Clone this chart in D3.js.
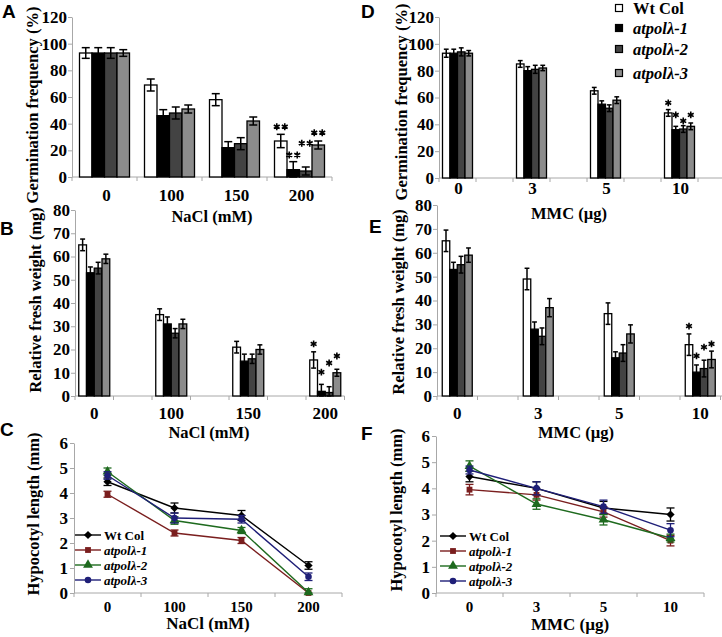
<!DOCTYPE html>
<html>
<head>
<meta charset="utf-8">
<script src="https://cdn.jsdelivr.net/npm/d3@7"></script>
<style>
body{margin:0;background:#fff}
text{font-family:"Liberation Serif","Times New Roman",serif;font-weight:bold;fill:#000}
</style>
</head>
<body>
<script>
// genotypes and doses
var seriesNames = ["Wt Col","atpolλ-1","atpolλ-2","atpolλ-3"];
var saltDoses = ["0","100","150","200"];
var mmcDoses = ["0","3","5","10"];

// germination frequency (%), one row per dose, one value per genotype
var germSalt = [[93,93,93,93],[69,46,48,51],[58,22,25,42],[27,5.5,4.5,24]];
var germSaltErr = [[4,4,4,2.5],[4.5,4.5,4.5,3],[4.5,4.5,4.5,3],[5,6,3,3]];
var germSaltStars = [37.7,16.5,25.3,33.2];
var germMmc = [[93,93,94,93],[85,80,81,82],[65,55,52,58],[48.5,36,36.5,38.5]];
var germMmcErr = [[3,3,3,2],[2.5,3,3,2],[2.5,2.5,2.5,2.5],[2.5,2.5,2.5,2.5]];
var germMmcStars = [56,47,42.5,47];

// relative fresh weight (mg)
var weightSalt = [[65,53,55,59],[35,31,27,31],[21,15,16,20],[15.5,2,1.5,10]];
var weightSaltErr = [[2.5,2.5,2.5,2],[2.5,3,2,2],[2.5,3,2,2],[3.5,3,2.5,1.5]];
var weightSaltStars = [22.4,10.3,14.2,17.2];
var weightMmc = [[65,53,55,59],[49,28,25,37],[34.5,16,18,26],[21.5,10,11.5,15.3]];
var weightMmcErr = [[4.5,3,3.5,3],[4.5,3,3.5,3.8],[4.5,2.5,3.5,3.8],[4.5,3,3.5,3.5]];
var weightMmcStars = [29.3,16.8,20.5,21.8];

// hypocotyl length (mm), one row per genotype, one value per dose
var hypoSalt = [[4.45,3.4,3.1,1.1],[3.95,2.4,2.1,0],[4.85,2.9,2.5,0.02],[4.7,3.0,2.95,0.65]];
var hypoSaltErr = [[0.15,0.2,0.2,0.15],[0.12,0.12,0.12,0],[0.15,0.15,0.12,0.15],[0.15,0.2,0.15,0.15]];
var hypoMmc = [[4.45,4.0,3.25,3.0],[3.95,3.75,3.1,2.0],[4.85,3.4,2.8,2.1],[4.7,4.0,3.3,2.4]];
var hypoMmcErr = [[0.2,0.25,0.25,0.25],[0.2,0.2,0.2,0.2],[0.2,0.2,0.2,0.15],[0.15,0.25,0.25,0.25]];

var barFill = ["#ffffff","#000000","#434343","#8c8c8c"];
var lineColor = ["#000000","#7a1e1e","#1e6a1e","#1f1f78"];
var markerType = [d3.symbolSquare,d3.symbolSquare,d3.symbolTriangle,d3.symbolCircle];
var axisGrey = "#a8a8a8";

var svg = d3.select("body").append("svg").attr("width",722).attr("height",637);

function styleAxis(g) {
  g.select(".domain").attr("stroke",axisGrey);
  g.selectAll(".tick line").attr("stroke",axisGrey);
  g.selectAll(".tick text").style("font-size","17px").attr("fill","#000")
    .style("font-family",'"Liberation Serif",serif').style("font-weight","bold");
}

function xBase(g,xCat,ncat,y0,x1) {
  // ligne de base grise + petites graduations entre categories
  var end = Math.min(x1, 722);
  g.append("line").attr("x1",xCat.range()[0]).attr("x2",end).attr("y1",y0).attr("y2",y0)
    .attr("stroke",axisGrey);
  g.selectAll("line.xt").data(d3.range(ncat+1).map(function(i){return xCat.range()[0]+i*xCat.bandwidth();}))
    .enter().append("line").attr("class","xt")
    .attr("x1",function(d){return d;}).attr("x2",function(d){return d;})
    .attr("y1",y0).attr("y2",y0+4).attr("stroke",axisGrey);
}

function yTitle(g,label,x,y) {
  g.append("text").attr("transform","translate("+x+","+y+") rotate(-90)")
    .attr("text-anchor","middle").attr("dy","0.35em").style("font-size","16.5px").text(label);
}

function starPath(n) {
  // asterisque a 6 branches, n fois cote a cote
  var p = "", r = 3.4;
  for (var k=0;k<n;k++) {
    var ox = (k-(n-1)/2)*8;
    for (var a=0;a<3;a++) {
      var t = Math.PI/2 + a*Math.PI/3;
      p += "M"+(ox+r*Math.cos(t))+","+(r*Math.sin(t))+"L"+(ox-r*Math.cos(t))+","+(-r*Math.sin(t));
    }
  }
  return p;
}

function barPanel(cfg) {
  var g = svg.append("g");
  var y = d3.scaleLinear().domain([0,cfg.ymax]).range([cfg.y0,cfg.y1]);
  var xCat = d3.scaleBand().domain(d3.range(cfg.ncat)).range([cfg.x0,cfg.x0+cfg.ncat*cfg.cw]);
  var xIn = d3.scaleBand().domain(d3.range(4)).range([-cfg.gw/2,cfg.gw/2]);
  var center = function(i){ return xCat(cfg.slots[i])+xCat.bandwidth()/2; };

  xBase(g,xCat,cfg.ncat,cfg.y0,cfg.x0+cfg.ncat*cfg.cw);
  var ax = g.append("g").attr("transform","translate("+cfg.x0+",0)")
    .call(d3.axisLeft(y).ticks(cfg.ymax/cfg.step).tickSize(4).tickSizeOuter(0).tickPadding(1));
  styleAxis(ax);

  var flat = [];
  cfg.values.forEach(function(row,i){
    row.forEach(function(v,s){ flat.push({dose:i,s:s,v:v,e:cfg.err[i][s]}); });
  });
  var bx = function(d){ return center(d.dose)+xIn(d.s); };
  var bw = xIn.bandwidth();

  g.selectAll("rect.bar").data(flat).enter().append("rect").attr("class","bar")
    .attr("x",bx).attr("width",bw)
    .attr("y",function(d){return y(d.v);})
    .attr("height",function(d){return cfg.y0-y(d.v);})
    .attr("fill",function(d){return barFill[d.s];})
    .attr("stroke","#000").attr("stroke-width",1.3);

  var cap = bw*0.32;
  var eb = g.selectAll("g.err").data(flat).enter().append("g").attr("class","err")
    .attr("stroke","#000").attr("stroke-width",1.5);
  eb.append("line").attr("x1",function(d){return bx(d)+bw/2;}).attr("x2",function(d){return bx(d)+bw/2;})
    .attr("y1",function(d){return y(Math.max(0,d.v-d.e));}).attr("y2",function(d){return y(d.v+d.e);});
  [-1,1].forEach(function(sign){
    eb.append("line").attr("x1",function(d){return bx(d)+bw/2-cap;}).attr("x2",function(d){return bx(d)+bw/2+cap;})
      .attr("y1",function(d){return y(Math.max(0,d.v+sign*d.e));})
      .attr("y2",function(d){return y(Math.max(0,d.v+sign*d.e));});
  });

  var last = cfg.values.length-1;
  g.selectAll("path.star").data(cfg.stars).enter().append("path").attr("class","star")
    .attr("d",starPath(cfg.nStars))
    .attr("transform",function(d,s){return "translate("+(center(last)+xIn(s)+bw/2)+","+y(d)+")";})
    .attr("stroke","#000").attr("stroke-width",1.6).attr("fill","none");

  g.selectAll("text.cat").data(cfg.doses).enter().append("text").attr("class","cat")
    .attr("x",function(d,i){return center(i)+cfg.labelShift;}).attr("y",cfg.y0+cfg.labelGap)
    .attr("text-anchor","middle").style("font-size","17px").text(function(d){return d;});
  g.append("text").attr("x",cfg.titleX).attr("y",cfg.titleY).attr("text-anchor","middle")
    .style("font-size","16.5px").text(cfg.xTitle);
  yTitle(g,cfg.yTitle,cfg.yTitleX,cfg.yTitleY);
}

function linePanel(cfg) {
  var g = svg.append("g");
  var y = d3.scaleLinear().domain([0,6]).range([cfg.y0,cfg.y1]);
  var xCat = d3.scaleBand().domain(d3.range(4)).range([cfg.x0,cfg.x1]);
  var cx = function(i){ return xCat(i)+xCat.bandwidth()/2; };

  xBase(g,xCat,4,cfg.y0,cfg.x1);
  var ax = g.append("g").attr("transform","translate("+cfg.x0+",0)")
    .call(d3.axisLeft(y).ticks(6).tickSize(4).tickSizeOuter(0).tickPadding(2));
  styleAxis(ax);

  var line = d3.line().x(function(d,i){return cx(i);}).y(function(d){return y(d);});
  cfg.values.forEach(function(row,s){
    var sg = g.append("g");
    sg.append("path").attr("d",line(row)).attr("fill","none")
      .attr("stroke",lineColor[s]).attr("stroke-width",1.4);
    row.forEach(function(v,i){
      var e = cfg.err[s][i];
      if (e>0) {
        sg.append("line").attr("x1",cx(i)).attr("x2",cx(i)).attr("y1",y(Math.max(0,v-e))).attr("y2",y(v+e))
          .attr("stroke",lineColor[s]).attr("stroke-width",1.3);
        [v-e,v+e].forEach(function(t){
          sg.append("line").attr("x1",cx(i)-4).attr("x2",cx(i)+4).attr("y1",y(Math.max(0,t))).attr("y2",y(Math.max(0,t)))
            .attr("stroke",lineColor[s]).attr("stroke-width",1.3);
        });
      }
    });
    sg.selectAll("path.mk").data(row).enter().append("path").attr("class","mk")
      .attr("d",d3.symbol().type(markerType[s]).size(s==2?42:34))
      .attr("transform",function(d,i){return "translate("+cx(i)+","+y(d)+")"+(s==0?" rotate(45)":"");})
      .attr("fill",lineColor[s]);
  });

  // legende
  var lg = g.append("g");
  seriesNames.forEach(function(n,s){
    var ly = cfg.legY + s*15;
    lg.append("line").attr("x1",cfg.legX).attr("x2",cfg.legX+26).attr("y1",ly).attr("y2",ly)
      .attr("stroke",lineColor[s]).attr("stroke-width",1.4);
    lg.append("path").attr("d",d3.symbol().type(markerType[s]).size(s==2?42:34))
      .attr("transform","translate("+(cfg.legX+13)+","+ly+")"+(s==0?" rotate(45)":""))
      .attr("fill",lineColor[s]);
    lg.append("text").attr("x",cfg.legX+29).attr("y",ly).attr("dy","0.35em")
      .style("font-size","13px").style("font-style",s==0?"normal":"italic").text(n);
  });

  g.selectAll("text.cat").data(cfg.doses).enter().append("text").attr("class","cat")
    .attr("x",function(d,i){return cx(i);}).attr("y",cfg.y0+19)
    .attr("text-anchor","middle").style("font-size","15px").text(function(d){return d;});
  g.append("text").attr("x",(cfg.x0+cfg.x1)/2).attr("y",cfg.titleY).attr("text-anchor","middle")
    .style("font-size","17px").text(cfg.xTitle);
  yTitle(g,"Hypocotyl length (mm)",cfg.yTitleX,cfg.yTitleY);
}

barPanel({values:germSalt,err:germSaltErr,stars:germSaltStars,nStars:2,doses:saltDoses,
  ymax:120,step:20,y0:177,y1:17,x0:72,cw:65,ncat:4,slots:[0,1,2,3],gw:50,labelGap:24,labelShift:2,
  xTitle:"NaCl (mM)",titleX:212,titleY:222,yTitle:"Germination frequency (%)",yTitleX:32,yTitleY:105});
barPanel({values:germMmc,err:germMmcErr,stars:germMmcStars,nStars:1,doses:mmcDoses,
  ymax:120,step:20,y0:178,y1:17,x0:439,cw:37,ncat:8,slots:[0,2,4,6],gw:30,labelGap:16,labelShift:1,
  xTitle:"MMC (µg)",titleX:569,titleY:219,yTitle:"Germination frequency (%)",yTitleX:401,yTitleY:102});
barPanel({values:weightSalt,err:weightSaltErr,stars:weightSaltStars,nStars:1,doses:saltDoses,
  ymax:80,step:10,y0:396,y1:210,x0:75,cw:38.5,ncat:7,slots:[0,2,4,6],gw:31,labelGap:23,labelShift:0,
  xTitle:"NaCl (mM)",titleX:209,titleY:438,yTitle:"Relative fresh weight (mg)",yTitleX:35,yTitleY:300});
barPanel({values:weightMmc,err:weightMmcErr,stars:weightMmcStars,nStars:1,doses:mmcDoses,
  ymax:80,step:10,y0:396,y1:205,x0:437,cw:40.5,ncat:8,slots:[0,2,4,6],gw:30,labelGap:23,labelShift:0,
  xTitle:"MMC (µg)",titleX:576,titleY:438,yTitle:"Relative fresh weight (mg)",yTitleX:398,yTitleY:302});

linePanel({values:hypoSalt,err:hypoSaltErr,doses:saltDoses,y0:593,y1:443,x0:74,x1:342,
  legX:75,legY:535,xTitle:"NaCl (mM)",titleY:629,yTitleX:33,yTitleY:514});
linePanel({values:hypoMmc,err:hypoMmcErr,doses:mmcDoses,y0:593,y1:436,x0:436,x1:704,
  legX:440,legY:536,xTitle:"MMC (µg)",titleY:630,yTitleX:396,yTitleY:510});

// legende des histogrammes (panneau D)
var legRows = [8,28,49,73];
seriesNames.forEach(function(n,s){
  svg.append("rect").attr("x",615.5).attr("y",legRows[s]-3.5).attr("width",7).attr("height",7)
    .attr("fill",barFill[s]).attr("stroke","#000").attr("stroke-width",1.2);
  svg.append("text").attr("x",633).attr("y",legRows[s]).attr("dy","0.35em")
    .style("font-size","16.5px").style("font-style",s==0?"normal":"italic").text(n);
});

// lettres des panneaux
[["A",2,18],["D",361,18],["B",0,235],["E",369,233],["C",0,436],["F",361,440]].forEach(function(p){
  svg.append("text").attr("x",p[1]).attr("y",p[2])
    .style("font-family",'"Liberation Sans",Arial,sans-serif').style("font-size","19px").text(p[0]);
});
</script>
</body>
</html>
